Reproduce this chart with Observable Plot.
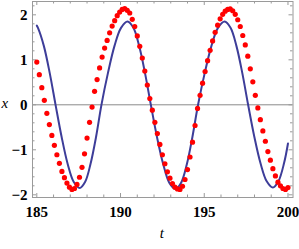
<!DOCTYPE html>
<html><head><meta charset="utf-8">
<script src="https://cdn.jsdelivr.net/npm/d3@7"></script>
<script src="https://cdn.jsdelivr.net/npm/@observablehq/plot@0.6"></script>
<style>html,body{margin:0;padding:0;background:#fff}</style>
</head><body><div id="chart"></div>
<script>
// Blue solid curve (t, x)
const blueT = [185.00,185.07,185.42,185.77,186.12,186.48,186.84,187.20,187.56,187.89,188.21,188.54,188.86,189.25,189.64,190.03,190.42,190.77,191.11,191.46,191.81,192.18,192.55,192.91,193.28,193.62,193.96,194.29,194.63,195.03,195.43,195.82,196.22,196.57,196.92,197.27,197.62,197.99,198.36,198.73,199.10,199.43,199.77,200.00];
const blueX = [1.76,1.71,1.31,0.71,0.00,-0.71,-1.31,-1.71,-1.85,-1.71,-1.31,-0.71,0.00,0.71,1.31,1.71,1.85,1.71,1.31,0.71,0.00,-0.72,-1.32,-1.73,-1.87,-1.73,-1.32,-0.72,0.00,0.71,1.31,1.71,1.85,1.71,1.31,0.71,0.00,-0.71,-1.30,-1.70,-1.84,-1.70,-1.29,-0.86];
// Red dotted samples (t, x)
const redT = [185,185.15,185.3,185.45,185.6,185.75,185.9,186.05,186.2,186.35,186.5,186.65,186.8,186.95,187.1,187.25,187.4,187.55,187.7,187.85,188,188.15,188.3,188.45,188.6,188.75,188.9,189.05,189.2,189.35,189.5,189.65,189.8,189.95,190.1,190.25,190.4,190.55,190.7,190.85,191,191.15,191.3,191.45,191.6,191.75,191.9,192.05,192.2,192.35,192.5,192.65,192.8,192.95,193.1,193.25,193.4,193.55,193.7,193.85,194,194.15,194.3,194.45,194.6,194.75,194.9,195.05,195.2,195.35,195.5,195.65,195.8,195.95,196.1,196.25,196.4,196.55,196.7,196.85,197,197.15,197.3,197.45,197.6,197.75,197.9,198.05,198.2,198.35,198.5,198.65,198.8,198.95,199.1,199.25,199.4,199.55,199.7,199.85,200];
const redX = [0.95,0.67,0.38,0.10,-0.19,-0.44,-0.68,-0.90,-1.11,-1.30,-1.48,-1.62,-1.74,-1.83,-1.88,-1.86,-1.77,-1.61,-1.39,-1.09,-0.74,-0.39,-0.05,0.30,0.56,0.82,1.06,1.26,1.43,1.60,1.75,1.87,1.98,2.06,2.12,2.14,2.10,2.04,1.90,1.74,1.53,1.30,1.04,0.75,0.44,0.14,-0.12,-0.39,-0.64,-0.88,-1.11,-1.31,-1.49,-1.63,-1.75,-1.83,-1.87,-1.88,-1.81,-1.66,-1.44,-1.16,-0.83,-0.46,-0.08,0.21,0.48,0.74,0.98,1.21,1.42,1.61,1.77,1.91,2.01,2.08,2.12,2.13,2.09,2.01,1.89,1.74,1.54,1.33,1.08,0.80,0.51,0.21,-0.07,-0.33,-0.58,-0.81,-1.04,-1.23,-1.42,-1.58,-1.72,-1.80,-1.86,-1.88,-1.84];
// Ticks
const xTicks = [185,190,195,200];
const xMinor = [186,187,188,189,191,192,193,194,196,197,198,199];
const yTicks = [-2,-1,0,1,2];
const yMinor = [-1.8,-1.6,-1.4,-1.2,-0.8,-0.6,-0.4,-0.2,0.2,0.4,0.6,0.8,1.2,1.4,1.6,1.8,2.2];
const xLabel = "t";
const yLabel = "x";

const blue = blueT.map((t,i)=>({t, x: blueX[i]}));
const red = redT.map((t,i)=>({t, x: redX[i]}));

const W = 299, H = 249;
const mL = 32, mR = 6.5, mT = 1, mB = 52;
const fw = W - mL - mR, fh = H - mT - mB;
const major = 4, minor = 2.5;
const frameCol = "#9a9a9a";
const fmt = d => d < 0 ? "\u2212" + Math.abs(d) : String(d);

const chart = Plot.plot({
  width: W, height: H,
  marginLeft: mL, marginRight: mR, marginTop: mT, marginBottom: mB,
  x: {domain: [184.743, 200.30]},
  y: {domain: [-2.06, 2.296]},
  style: {background: "#fff", fontFamily: "'Liberation Serif', serif"},
  marks: [
    Plot.ruleY([0], {stroke: "#8a8a8a", strokeWidth: 1}),
    // ticks left / right
    Plot.tickY(yTicks, {y: d=>d, stroke: frameCol, insetRight: fw - major}),
    Plot.tickY(yMinor, {y: d=>d, stroke: frameCol, insetRight: fw - minor}),
    Plot.tickY(yTicks, {y: d=>d, stroke: frameCol, insetLeft: fw - major}),
    Plot.tickY(yMinor, {y: d=>d, stroke: frameCol, insetLeft: fw - minor}),
    // ticks bottom / top
    Plot.tickX(xTicks, {x: d=>d, stroke: frameCol, insetTop: fh - major}),
    Plot.tickX(xMinor, {x: d=>d, stroke: frameCol, insetTop: fh - minor}),
    Plot.tickX(xTicks, {x: d=>d, stroke: frameCol, insetBottom: fh - major}),
    Plot.tickX(xMinor, {x: d=>d, stroke: frameCol, insetBottom: fh - minor}),
    Plot.line(blue, {x: "t", y: "x", curve: "catmull-rom", stroke: "#3d3d99", strokeWidth: 2}),
    Plot.dot(red, {x: "t", y: "x", r: 2.6, fill: "#ff0000", stroke: "none"}),
    Plot.frame({stroke: frameCol, strokeWidth: 1}),
    Plot.axisX({ticks: xTicks, tickSize: 0, tickPadding: 9, tickFormat: fmt, label: null, fontSize: 15, fontWeight: "bold", fill: "#000"}),
    Plot.axisY({ticks: yTicks, tickSize: 0, tickPadding: 5, tickFormat: fmt, label: null, fontSize: 15, fontWeight: "bold", fill: "#000"}),
    Plot.text([yLabel], {frameAnchor: "left", y: [0], text: d=>d, dx: -31, dy: -2, textAnchor: "start", fontSize: 15, fontStyle: "italic", fill: "#000"}),
    Plot.text([xLabel], {frameAnchor: "bottom", text: d=>d, dx: -1, dy: 40, fontSize: 15, fontStyle: "italic", fill: "#000"})
  ]
});
document.getElementById("chart").appendChild(chart);
</script>
</body></html>
